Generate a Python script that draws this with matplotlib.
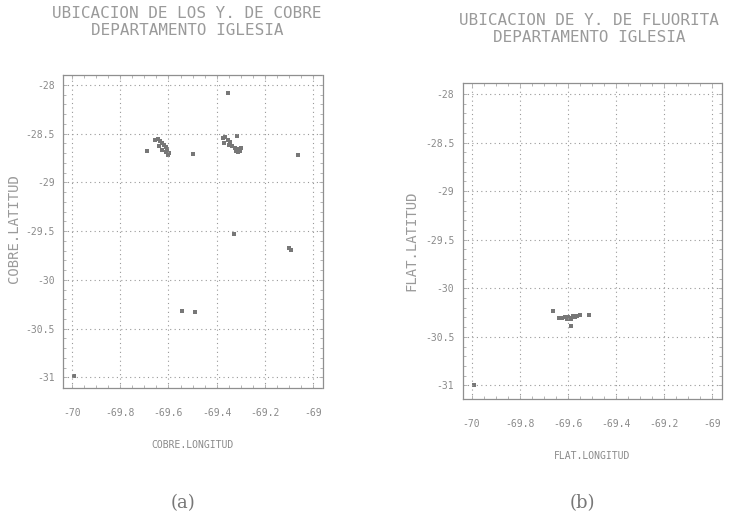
import matplotlib
matplotlib.use("Agg")
import matplotlib.pyplot as plt

# ---- data: copper occurrences (panel a) ----
cobre_lon = [-69.354, -69.69, -69.655, -69.645, -69.635, -69.628, -69.62, -69.612,
             -69.605, -69.598, -69.64, -69.625, -69.61, -69.60, -69.50,
             -69.375, -69.365, -69.355, -69.345, -69.37, -69.35, -69.335, -69.325,
             -69.315, -69.305, -69.298, -69.32, -69.31, -69.317, -69.061,
             -69.33, -69.10, -69.09, -69.545, -69.49, -69.99]
cobre_lat = [-28.08, -28.68, -28.57, -28.56, -28.58, -28.60, -28.62, -28.64,
             -28.66, -28.70, -28.63, -28.67, -28.69, -28.72, -28.71,
             -28.55, -28.54, -28.57, -28.59, -28.60, -28.62, -28.63, -28.65,
             -28.66, -28.68, -28.65, -28.68, -28.69, -28.53, -28.72,
             -29.53, -29.67, -29.69, -30.32, -30.33, -30.99]

# ---- data: fluorite occurrences (panel b) ----
fluor_lon = [-69.661, -69.636, -69.622, -69.61, -69.60, -69.59, -69.58, -69.57,
             -69.56, -69.55, -69.605, -69.585, -69.51, -69.588, -69.99]
fluor_lat = [-30.237, -30.305, -30.31, -30.29, -30.30, -30.31, -30.285, -30.29,
             -30.28, -30.27, -30.32, -30.315, -30.27, -30.385, -30.99]

x_ticks = [-70, -69.8, -69.6, -69.4, -69.2, -69]
x_ticklabels = ["-70", "-69.8", "-69.6", "-69.4", "-69.2", "-69"]
y_ticks = [-31, -30.5, -30, -29.5, -29, -28.5, -28]
y_ticklabels = ["-31", "-30.5", "-30", "-29.5", "-29", "-28.5", "-28"]

W, H = 742, 521
panels = [
    dict(lon=cobre_lon, lat=cobre_lat,
         title=["UBICACION DE LOS Y. DE COBRE", "DEPARTAMENTO IGLESIA"],
         title_x=187, title_y=[14, 30.5],
         xlabel="COBRE.LONGITUD", ylabel="COBRE.LATITUD", caption="(a)",
         cap_x=183, rect=[0.085, 0.255, 0.350, 0.601], ylim=(-31.11, -27.9),
         ylab_xy=(-0.162, 0.51)),
    dict(lon=fluor_lon, lat=fluor_lat,
         title=["UBICACION DE Y. DE FLUORITA", "DEPARTAMENTO IGLESIA"],
         title_x=589, title_y=[20.5, 37],
         xlabel="FLAT.LONGITUD", ylabel="FLAT.LATITUD", caption="(b)",
         cap_x=582, rect=[0.6236, 0.234, 0.349, 0.606], ylim=(-31.14, -27.89),
         ylab_xy=(-0.173, 0.50)),
]

GRAY = "#8a8a8a"
FONT = "DejaVu Sans Mono"

fig = plt.figure(figsize=(W / 100, H / 100), dpi=100)
fig.patch.set_facecolor("white")

for p in panels:
    ax = fig.add_axes(p["rect"])
    ax.scatter(p["lon"], p["lat"], s=5, color="#777777", marker="s", linewidths=0)
    ax.set_xlim(-70.037, -68.96)
    ax.set_ylim(*p["ylim"])
    ax.set_xticks(x_ticks)
    ax.set_xticklabels(x_ticklabels, family=FONT, fontsize=7, color=GRAY)
    ax.set_yticks(y_ticks)
    ax.set_yticklabels(y_ticklabels, family=FONT, fontsize=7, color=GRAY)
    ax.set_xticks([-70 + 0.05 * i for i in range(21)], minor=True)
    ax.set_yticks([-31 + 0.1 * i for i in range(31)], minor=True)
    ax.tick_params(which="both", direction="in", color="#aaaaaa", length=3, width=0.6,
                   top=True, right=True)
    ax.tick_params(axis="x", which="major", pad=14)
    ax.tick_params(axis="y", which="major", pad=6)
    ax.tick_params(which="minor", length=2)
    ax.grid(True, which="major", linestyle=(0, (1, 3)), color="#999999", linewidth=0.8)
    for s in ax.spines.values():
        s.set_linestyle((0, (1, 1)))
        s.set_color("#8f8f8f")
        s.set_linewidth(0.9)
    ax.set_xlabel(p["xlabel"], family=FONT, fontsize=7, color=GRAY, labelpad=16)
    ax.set_ylabel(p["ylabel"], family=FONT, fontsize=10, color="#9a9a9a")
    ax.yaxis.set_label_coords(*p["ylab_xy"])
    for line, ty in zip(p["title"], p["title_y"]):
        fig.text(p["title_x"] / W, 1 - ty / H, line, ha="center", va="center",
                 family=FONT, fontsize=11.5, color="#9a9a9a")
    fig.text(p["cap_x"] / W, 1 - 503 / H, p["caption"], ha="center", va="center",
             fontsize=13, color="#777777", family="DejaVu Serif")

fig.savefig("out.png", dpi=100, facecolor="white")
